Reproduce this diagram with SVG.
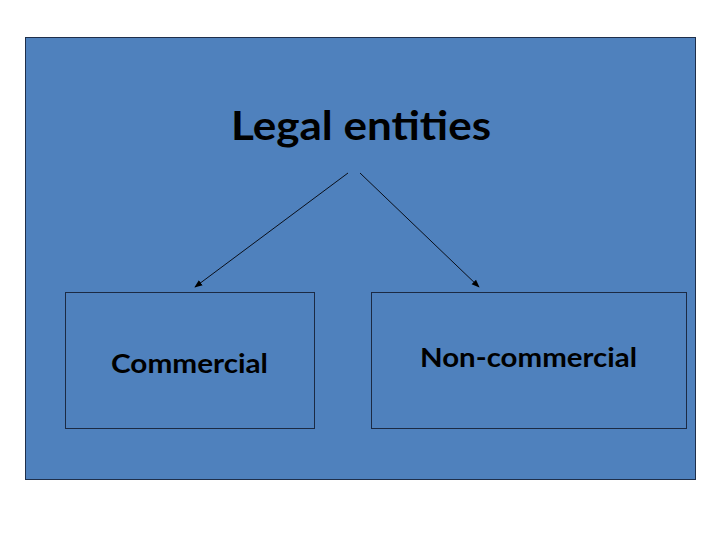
<svg xmlns="http://www.w3.org/2000/svg" width="720" height="540" viewBox="0 0 720 540">
<defs>
<style>
.bg{fill:#4F81BD;stroke:#1F2F4A;stroke-width:1}
.box{fill:#4F81BD;stroke:#1B2A44;stroke-width:1}
.t{font-family:Lato,"Open Sans","Liberation Sans",sans-serif;font-weight:bold;fill:#000;text-anchor:middle}
.c{stroke:#0A0F1A;stroke-width:1;fill:none;marker-end:url(#ah)}
</style>
<marker id="ah" viewBox="0 0 10 10" refX="9" refY="5" markerWidth="8" markerHeight="8" markerUnits="userSpaceOnUse" orient="auto">
<path d="M0,1 L10,5 L0,9 z" fill="#000"/>
</marker>
</defs>
<rect width="720" height="540" fill="#fff"/>
<g id="background">
<rect class="bg" x="25.5" y="37.5" width="670" height="442"/>
</g>
<g id="title">
<text class="t" x="361" y="140" font-size="40" textLength="260" lengthAdjust="spacingAndGlyphs">Legal entities</text>
</g>
<g id="connectors">
<line class="c" x1="348" y1="173" x2="195" y2="287"/>
<line class="c" x1="360" y1="173" x2="479" y2="287"/>
</g>
<g id="commercial">
<rect class="box" x="65.5" y="292.5" width="249" height="136"/>
<text class="t" x="189.5" y="373" font-size="27" textLength="157" lengthAdjust="spacingAndGlyphs">Commercial</text>
</g>
<g id="noncommercial">
<rect class="box" x="371.5" y="292.5" width="315" height="136"/>
<text class="t" x="528.5" y="367" font-size="27" textLength="217" lengthAdjust="spacingAndGlyphs">Non-commercial</text>
</g>
</svg>
